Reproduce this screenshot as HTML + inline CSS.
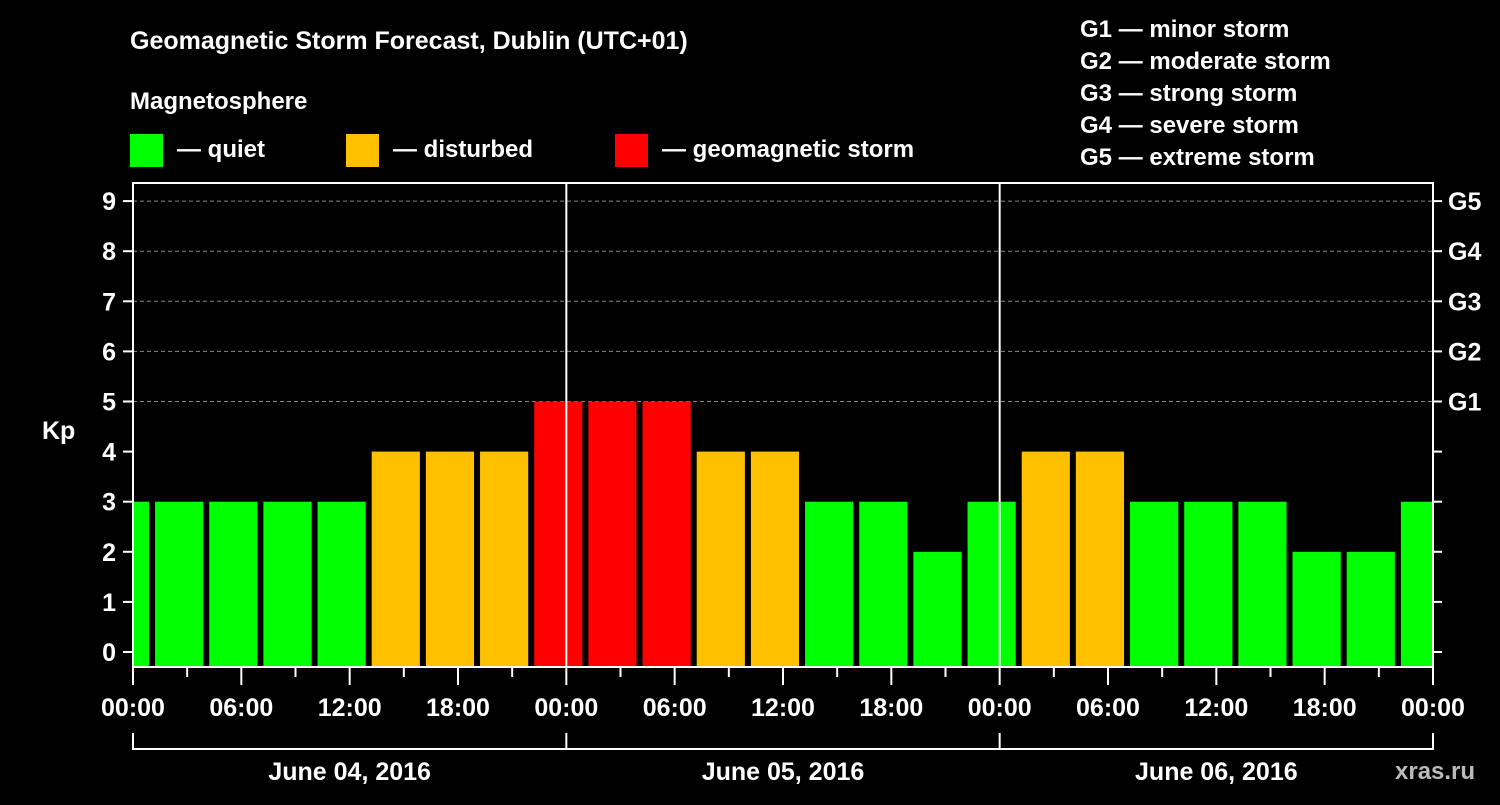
<!DOCTYPE html>
<html><head><meta charset="utf-8"><style>
body{margin:0;background:#000;width:1500px;height:800px;overflow:hidden;font-family:"Liberation Sans",sans-serif;font-weight:bold;}
svg text{font-family:"Liberation Sans",sans-serif;font-weight:bold;fill:#fff;}
</style></head><body>
<svg width="1500" height="800" id="chart">
<text x="130" y="49" font-size="25">Geomagnetic Storm Forecast, Dublin (UTC+01)</text>
<text x="130" y="109" font-size="24">Magnetosphere</text>
<g><rect x="130" y="134" width="33" height="33" fill="#00ff00"/><text x="177" y="157" font-size="24">— quiet</text></g>
<g><rect x="346" y="134" width="33" height="33" fill="#ffc000"/><text x="393" y="157" font-size="24">— disturbed</text></g>
<g><rect x="615" y="134" width="33" height="33" fill="#ff0000"/><text x="662" y="157" font-size="24">— geomagnetic storm</text></g>
<g font-size="24">
<text x="1080" y="37">G1 — minor storm</text>
<text x="1080" y="69">G2 — moderate storm</text>
<text x="1080" y="101">G3 — strong storm</text>
<text x="1080" y="133">G4 — severe storm</text>
<text x="1080" y="165">G5 — extreme storm</text>
</g>
<text x="42" y="439" font-size="25">Kp</text>
<text x="1395" y="779" font-size="24" fill="#bbb" style="fill:#bbb">xras.ru</text>
<g id="grid"></g><g id="bars"></g><g id="axes"></g>
</svg>
<script>
const kpValues=[3,3,3,3,3,4,4,4,5,5,5,4,4,3,3,2,3,4,4,3,3,3,2,2,3];
const barStartHour=-2;
const yTicks=[0,1,2,3,4,5,6,7,8,9];
const gLabels=["G1","G2","G3","G4","G5"];
const hourLabels=["00:00","06:00","12:00","18:00","00:00","06:00","12:00","18:00","00:00","06:00","12:00","18:00","00:00"];
const dayLabels=["June 04, 2016","June 05, 2016","June 06, 2016"];
const NS="http://www.w3.org/2000/svg";
const L=133,R=1433,T=183,B=667;
const xs=h=>L+h*(R-L)/72;
const ys=k=>652-k*50.1;
function mk(tag,attrs,parent,txt){const e=document.createElementNS(NS,tag);for(const k in attrs)e.setAttribute(k,attrs[k]);if(txt!==undefined)e.textContent=txt;document.getElementById(parent).appendChild(e);return e;}
function col(k){return k>=5?"#ff0000":k>=4?"#ffc000":"#00ff00";}
kpValues.forEach((k,i)=>{
 const h0=barStartHour+i*3;
 let x0=xs(h0)+4,x1=xs(h0+3)-2;
 x0=Math.max(x0,L+1);x1=Math.min(x1,R-1);
 const r=mk("rect",{x:x0,y:ys(k),width:x1-x0,height:B-ys(k),fill:col(k)},"bars");
 
 
});
[5,6,7,8,9].forEach(k=>{
 const g=mk("line",{x1:L,x2:R,y1:ys(k),y2:ys(k),stroke:"#888","stroke-dasharray":"4,3"},"grid");
 
 
});
const fr=mk("rect",{x:L,y:T,width:R-L,height:B-T,fill:"none",stroke:"#fff","stroke-width":2},"axes");


[24,48].forEach(h=>{const l=mk("line",{x1:xs(h),x2:xs(h),y1:T,y2:B,stroke:"#fff","stroke-width":2},"axes");
 
 });
yTicks.forEach(k=>{
 mk("line",{x1:L-10,x2:L,y1:ys(k),y2:ys(k),stroke:"#fff","stroke-width":2},"axes");
 mk("line",{x1:R,x2:R+9,y1:ys(k),y2:ys(k),stroke:"#fff","stroke-width":2},"axes");
 const t=mk("text",{x:L-17,y:ys(k)+9,"font-size":25,"text-anchor":"end"},"axes",String(k));
 
 
});
gLabels.forEach((g,i)=>{const t=mk("text",{x:1448,y:ys(i+5)+9,"font-size":25},"axes",g);
 
 });
for(let h=0;h<=72;h+=3){mk("line",{x1:xs(h),x2:xs(h),y1:B,y2:h%6==0?B+18:B+10,stroke:"#fff","stroke-width":2},"axes");}
hourLabels.forEach((s,i)=>{const t=mk("text",{x:xs(i*6),y:716,"font-size":25,"text-anchor":"middle"},"axes",s);
 
 });
mk("line",{x1:xs(0),x2:xs(72),y1:749,y2:749,stroke:"#fff","stroke-width":2},"axes");
[0,24,48,72].forEach(h=>mk("line",{x1:xs(h),x2:xs(h),y1:733,y2:750,stroke:"#fff","stroke-width":2},"axes"));
dayLabels.forEach((s,i)=>{const t=mk("text",{x:xs(i*24+12),y:780,"font-size":25,"text-anchor":"middle"},"axes",s);
 
 });
</script>
</body></html>
